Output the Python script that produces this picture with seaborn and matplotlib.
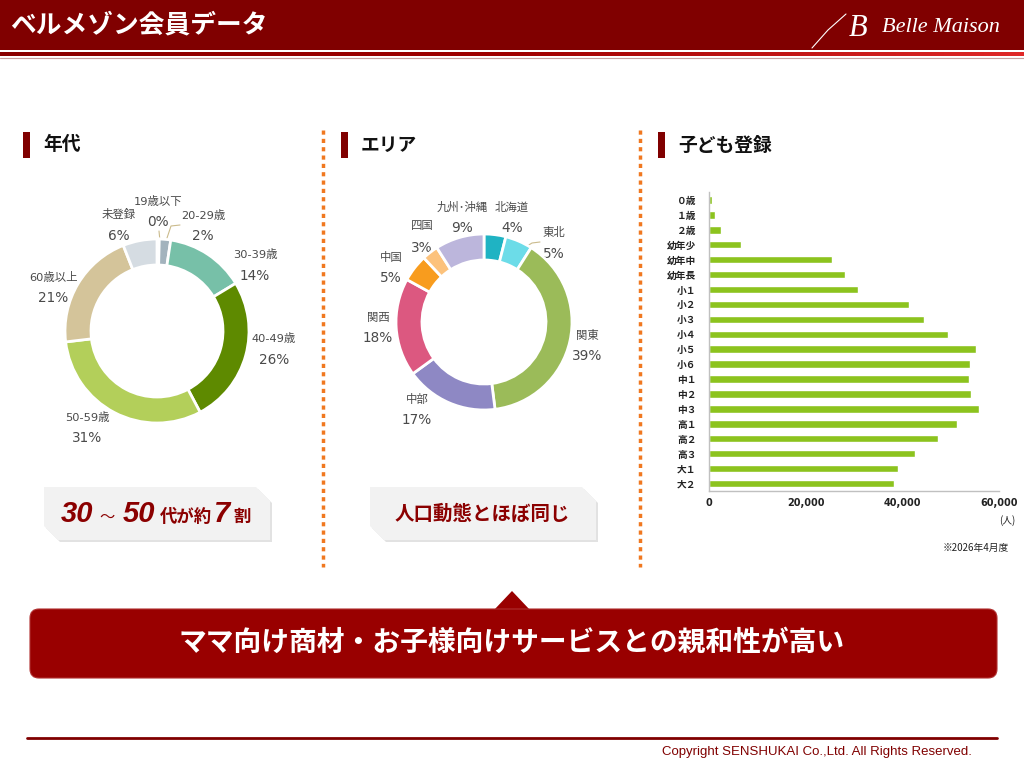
import numpy as np
import pandas as pd
import seaborn as sns
import matplotlib.pyplot as plt
from matplotlib.patches import Rectangle, Polygon, FancyBboxPatch
from matplotlib.colors import LinearSegmentedColormap

# 年代 (share in %)
age_labels = ['19歳以下', '20-29歳', '30-39歳', '40-49歳', '50-59歳', '60歳以上', '未登録']
age_share = [0.4, 2, 14, 26, 31, 21, 6]
age_colors = ['#c3cdd4', '#a3b3bd', '#77c0a8', '#5e8a00', '#b3cf5a', '#d4c49a', '#d5dce2']

# エリア (share in %)
area_labels = ['北海道', '東北', '関東', '中部', '関西', '中国', '四国', '九州･沖縄']
area_share = [4, 5, 39, 17, 18, 5, 3, 9]
area_colors = ['#1fb3c3', '#6cdce8', '#9bbb59', '#8e88c4', '#dc5880', '#f89c1e', '#fcc27c', '#bcb6dc']

# 子ども登録 (people)
kids_labels = ['０歳', '１歳', '２歳', '幼年少', '幼年中', '幼年長', '小１', '小２', '小３', '小４',
               '小５', '小６', '中１', '中２', '中３', '高１', '高２', '高３', '大１', '大２']
kids_counts = [550, 1310, 2550, 6690, 25520, 28210, 30900, 41450, 44550, 49380,
               55170, 53930, 53860, 54210, 55790, 51240, 47310, 42550, 39100, 38280]
kids_ticks = [0, 20000, 40000, 60000]

# where the label pairs sit (pixels, name above / percent below)
age_label_xy = [(158, 212), (203, 226), (255, 265), (274, 349), (87, 428), (53, 288), (119, 225)]
area_label_xy = [(512, 218), (554, 243), (587, 346), (417, 410), (378, 328), (391, 268), (422, 237), (462, 218)]

W, H = 1024, 768
RED = '#800000'
LABEL_GREY = '#4a4a4a'
LATIN_FIRST = ['DejaVu Sans', 'Noto Sans CJK JP']

sns.set_theme(style='white')
plt.rcParams['font.family'] = ['Noto Sans CJK JP', 'DejaVu Sans']

fig = plt.figure(figsize=(W / 100, H / 100), dpi=100)
fig.patch.set_facecolor('white')


def px_rect(x0, y0, x1, y1):
    return [x0 / W, 1 - y1 / H, (x1 - x0) / W, (y1 - y0) / H]


# background axes in pixel units for the slide decoration
bg = fig.add_axes([0, 0, 1, 1])
bg.set_xlim(0, W)
bg.set_ylim(H, 0)
bg.axis('off')

# header
bg.add_patch(Rectangle((0, 0), W, 50, color=RED, lw=0))
grad = LinearSegmentedColormap.from_list('hdr', ['#8a0000', '#a00000', '#e02828'])
bg.imshow(np.linspace(0, 1, 256)[None, :], cmap=grad, aspect='auto',
          extent=(0, W, 56.5, 53), zorder=1)
bg.plot([0, W], [58, 58], color='#c8a0a0', lw=0.8)
bg.text(10, 25, 'ベルメゾン会員データ', color='white', fontsize=18.5, fontweight='bold', va='center')
bg.text(882, 28, 'Belle Maison', color='white', fontsize=16, style='italic',
        family='Liberation Serif', va='center')
bg.text(849, 29, 'B', color='white', fontsize=22, style='italic', family='Liberation Serif', va='center')
bg.plot([812, 828, 846], [48, 30, 14], color='white', lw=0.8)

# section headings
for x, title in [(23, '年代'), (341, 'エリア'), (658, '子ども登録')]:
    bg.add_patch(Rectangle((x, 132), 7, 26, color=RED, lw=0))
    bg.text(x + 20, 145, title, fontsize=13.5, fontweight='bold', color='#111111', va='center')

# dotted separators
for x in [323, 640]:
    bg.plot([x, x], [130, 567], color='#f07820', lw=2.5, linestyle=(0, (1.2, 1.2)))


def donut(cx, cy, r, values, colors, labels, label_xy):
    half = 150
    ax = fig.add_axes(px_rect(cx - half, cy - half, cx + half, cy + half))
    ax.pie(values, colors=colors, startangle=90, counterclock=False, radius=1,
           wedgeprops=dict(width=26 / r, edgecolor='white', linewidth=2))
    ax.set_xlim(-half / r, half / r)
    ax.set_ylim(-half / r, half / r)
    ax.set_aspect('equal')
    ax.axis('off')
    ax.patch.set_alpha(0)
    for lab, v, (lx, ly) in zip(labels, values, label_xy):
        bg.text(lx, ly - 10.5, lab, fontsize=8.2, color=LABEL_GREY, ha='center', va='center',
                family=LATIN_FIRST)
        bg.text(lx, ly + 10.5, f'{round(v)}%', fontsize=9.8, color=LABEL_GREY, ha='center',
                va='center', family=LATIN_FIRST)


donut(157, 331, 92, age_share, age_colors, age_labels, age_label_xy)
donut(484, 322, 88, area_share, area_colors, area_labels, area_label_xy)

# leader lines for the thin slices
leader = '#cbbb8c'
bg.plot([159, 160], [231, 241], color=leader, lw=0.8)
bg.plot([180, 171, 166], [225, 226, 241], color=leader, lw=0.8)
bg.plot([540, 532, 516], [242, 243, 253], color=leader, lw=0.8)

# callout boxes
for x0 in [44, 370]:
    pts = [(x0, 487), (x0 + 212, 487), (x0 + 226, 501), (x0 + 226, 540), (x0 + 14, 540), (x0, 526)]
    bg.add_patch(Polygon([(x + 2, y + 2) for x, y in pts], color='#e2e2e2', lw=0))
    bg.add_patch(Polygon(pts, color='#f2f2f2', lw=0))

dark = '#8b0000'
big = dict(fontsize=21, fontweight='bold', style='italic', family='Liberation Sans', color=dark, va='baseline')
small = dict(fontsize=12.5, fontweight='bold', color=dark, va='baseline')
bg.text(61, 522, '30', **big)
bg.text(99, 522, '～', fontsize=11, color=dark, va='baseline')
bg.text(123, 522, '50', **big)
bg.text(160, 522, '代が約', **small)
bg.text(214, 522, '7', **big)
bg.text(233, 522, '割', **small)
bg.text(482, 514, '人口動態とほぼ同じ', fontsize=14, fontweight='bold', color=dark,
        ha='center', va='center')

# 子ども登録 bar chart
kids_df = pd.DataFrame({'学年': kids_labels, '人数': kids_counts})
axb = fig.add_axes(px_rect(709, 192.5, 999, 491))
axb.patch.set_alpha(0)
sns.barplot(data=kids_df, x='人数', y='学年', color='#8cc31e', saturation=1, width=0.5, ax=axb)
axb.set_xlim(0, 60000)
axb.set_xticks(kids_ticks)
axb.set_xticklabels([f'{t:,}' for t in kids_ticks], fontsize=7, fontweight='bold',
                    color='#222222', family=LATIN_FIRST)
axb.set_yticks(range(len(kids_labels)))
axb.set_yticklabels(kids_labels, fontsize=7, fontweight='bold', color='#222222', family=LATIN_FIRST)
axb.set_xlabel('')
axb.set_ylabel('')
axb.tick_params(length=0, axis='y', pad=9)
axb.tick_params(length=0, axis='x', pad=5)
sns.despine(ax=axb)
for s in ['left', 'bottom']:
    axb.spines[s].set_color('#c0c0c0')
    axb.spines[s].set_linewidth(1)
bg.text(1007, 521, '(人)', fontsize=7, color='#222222', ha='center', va='center')
bg.text(976, 548, '※2026年4月度', fontsize=7, color='#222222', ha='center', va='center')

# summary banner
bg.add_patch(Polygon([(494, 610), (512, 591), (530, 610)], color='#990000', lw=0))
bg.add_patch(FancyBboxPatch((30, 609), 967, 69, boxstyle='round,pad=0,rounding_size=9',
                            facecolor='#990000', edgecolor='#b03030', lw=0.8))
bg.text(512, 643, 'ママ向け商材・お子様向けサービスとの親和性が高い', color='white',
        fontsize=20, fontweight='bold', ha='center', va='center')

# footer
bg.plot([27, 997], [738, 738], color=RED, lw=2)
bg.text(972, 752, 'Copyright SENSHUKAI Co.,Ltd. All Rights Reserved.', color=RED,
        fontsize=9.5, family='Liberation Sans', ha='right', va='center')

fig.savefig('out.png', dpi=100)
